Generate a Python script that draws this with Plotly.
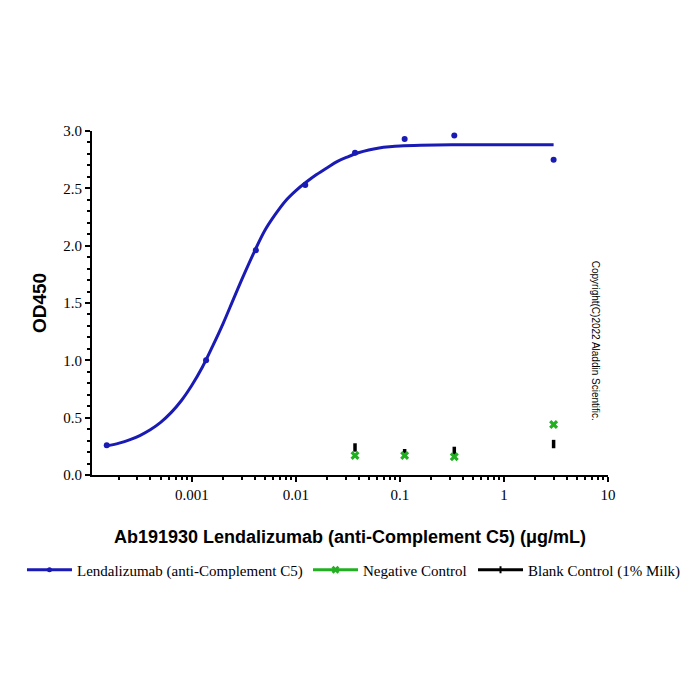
import plotly.graph_objects as go

# Data
conc = [0.000152, 0.00137, 0.00412, 0.0123, 0.037, 0.111, 0.333, 3.0]
od_lenda = [0.26, 1.00, 1.96, 2.53, 2.81, 2.93, 2.96, 2.75]

# fitted curve
curve_x = [0.000145, 0.0002, 0.000251, 0.000316, 0.000398, 0.000501, 0.000631, 0.000794,
           0.001, 0.00126, 0.00158, 0.002, 0.00251, 0.00316, 0.00398, 0.00501, 0.00631,
           0.00794, 0.01, 0.0126, 0.0158, 0.02, 0.0251, 0.0316, 0.0398, 0.0501, 0.0631,
           0.0794, 0.1, 0.158, 0.316, 1.0, 3.0]
curve_y = [0.25, 0.278, 0.306, 0.344, 0.394, 0.459, 0.544, 0.650,
           0.783, 0.940, 1.122, 1.323, 1.534, 1.745, 1.946, 2.13, 2.27,
           2.39, 2.48, 2.555, 2.62, 2.68, 2.735, 2.775, 2.81, 2.835, 2.852,
           2.862, 2.869, 2.875, 2.879, 2.88, 2.88]

ctrl_conc = [0.037, 0.111, 0.333, 3.0]
od_neg = [0.17, 0.17, 0.16, 0.44]
od_blank = [0.24, 0.19, 0.21, 0.27]

x_tickvals = [0.001, 0.01, 0.1, 1, 10]
x_ticktext = ["0.001", "0.01", "0.1", "1", "10"]
y_tickvals = [0.0, 0.5, 1.0, 1.5, 2.0, 2.5, 3.0]
y_ticktext = ["0.0", "0.5", "1.0", "1.5", "2.0", "2.5", "3.0"]

BLUE = "#1a1ab4"
GREEN = "#22b022"
BLACK = "#000000"
SERIF = "Liberation Serif, Times New Roman, serif"
SANS = "Liberation Sans, Arial, sans-serif"

fig = go.Figure()

fig.add_trace(go.Scatter(
    x=curve_x, y=curve_y, mode="lines", line=dict(color=BLUE, width=3, shape="spline", smoothing=1),
    showlegend=False, hoverinfo="skip"))
fig.add_trace(go.Scatter(
    x=conc, y=od_lenda, mode="markers", marker=dict(color=BLUE, size=6, symbol="circle"),
    name="Lendalizumab (anti-Complement C5)", showlegend=False))
fig.add_trace(go.Scatter(
    x=ctrl_conc, y=od_blank, mode="markers",
    marker=dict(color=BLACK, size=6, symbol="line-ns", line=dict(color=BLACK, width=3.5)),
    name="Blank Control (1% Milk)", showlegend=False))
fig.add_trace(go.Scatter(
    x=ctrl_conc, y=od_neg, mode="markers",
    marker=dict(color=GREEN, size=8, symbol="x", line=dict(width=0)),
    name="Negative Control", showlegend=False))

# legend entries (one legend each, laid out in a row)
fig.add_trace(go.Scatter(
    x=[None], y=[None], mode="lines+markers", line=dict(color=BLUE, width=3),
    marker=dict(color=BLUE, size=5), name="Lendalizumab (anti-Complement C5)", legend="legend"))
fig.add_trace(go.Scatter(
    x=[None], y=[None], mode="lines+markers", line=dict(color=GREEN, width=3),
    marker=dict(color=GREEN, size=7, symbol="x"), name="Negative Control", legend="legend2"))
fig.add_trace(go.Scatter(
    x=[None], y=[None], mode="lines+markers", line=dict(color=BLACK, width=3),
    marker=dict(color=BLACK, size=5, symbol="line-ns", line=dict(color=BLACK, width=2)),
    name="Blank Control (1% Milk)", legend="legend3"))

leg_common = dict(orientation="h", yanchor="middle", y=-0.276, xanchor="left",
                  font=dict(family=SERIF, size=15, color="black"), itemwidth=45,
                  bgcolor="rgba(0,0,0,0)")

fig.update_layout(
    width=700, height=700,
    paper_bgcolor="white", plot_bgcolor="white",
    margin=dict(l=92, r=92, t=131, b=225),
    showlegend=True,
    legend=dict(x=-0.1357, **leg_common),
    legend2=dict(x=0.4186, **leg_common),
    legend3=dict(x=0.7384, **leg_common),
    xaxis=dict(
        type="log", range=[-3.96, 1.0],
        tickvals=x_tickvals, ticktext=x_ticktext,
        ticks="outside", ticklen=5, tickwidth=1.5, tickcolor="black",
        minor=dict(ticks="outside", ticklen=3, tickcolor="black", dtick="D1", showgrid=False),
        showline=True, linecolor="black", linewidth=2, showgrid=False, zeroline=False,
        tickfont=dict(family=SERIF, size=15, color="black"),
        title=dict(text="<b>Ab191930 Lendalizumab (anti-Complement C5) (μg/mL)</b>",
                   font=dict(family=SANS, size=18, color="black"), standoff=28),
    ),
    yaxis=dict(
        range=[0, 3.0],
        tickvals=y_tickvals, ticktext=y_ticktext,
        ticks="outside", ticklen=5, tickwidth=1.5, tickcolor="black",
        minor=dict(ticks="outside", ticklen=3, tickcolor="black", dtick=0.1, showgrid=False),
        showline=True, linecolor="black", linewidth=2, showgrid=False, zeroline=False,
        tickfont=dict(family=SERIF, size=15, color="black"),
        title=dict(text="<b>OD450</b>", font=dict(family=SANS, size=19, color="black"), standoff=12),
    ),
)

fig.add_annotation(
    text="Copyright(C)2022 Aladdin Scientific.", xref="paper", yref="paper",
    x=0.975, y=0.39, xanchor="center", yanchor="middle", textangle=90, showarrow=False,
    font=dict(family=SANS, size=10, color="black"))

fig.write_html("out.html")
